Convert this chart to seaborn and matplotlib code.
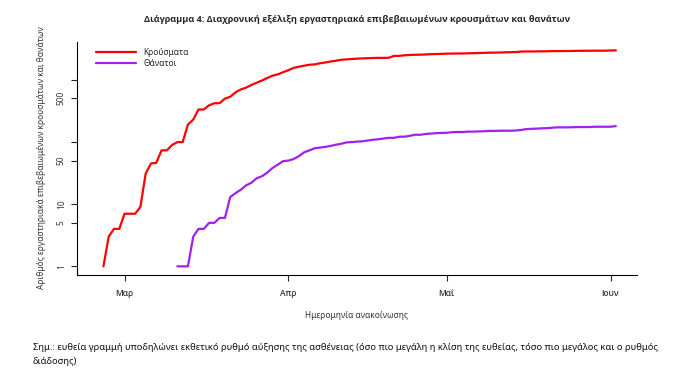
import matplotlib
matplotlib.use("Agg")
import matplotlib.pyplot as plt
from matplotlib.ticker import NullLocator
import pandas as pd
import seaborn as sns

# cumulative lab-confirmed cases, daily from 26 Feb
cases_start = "2020-02-26"
cases = [
    1, 3, 4, 4,
    7, 7, 7, 9, 31, 45, 46, 73, 73, 89, 99, 99, 190, 228, 331, 331, 387, 418, 418,
    495, 530, 624, 695, 743, 821, 892, 966, 1061, 1156, 1212, 1314,
    1415, 1544, 1613, 1673, 1735, 1755, 1832, 1884, 1955, 2011, 2081, 2114, 2145,
    2170, 2192, 2207, 2224, 2235, 2235, 2245, 2401, 2408, 2463, 2490, 2506, 2517,
    2534, 2566, 2576, 2591,
    2612, 2620, 2626, 2632, 2642, 2663, 2678, 2691, 2710, 2716, 2726, 2744, 2760,
    2770, 2819, 2834, 2836, 2840, 2850, 2853, 2874, 2876, 2878, 2882, 2892, 2903,
    2906, 2909, 2915, 2917, 2918,
    2937, 2952,
]

# cumulative deaths, daily from 11 Mar
deaths_start = "2020-03-11"
deaths = [
    1, 1, 1, 3, 4, 4, 5, 5, 6, 6, 13, 15, 17, 20, 22, 26, 28, 32, 38, 43, 49,
    50, 53, 59, 68, 73, 79, 81, 83, 86, 90, 93, 98, 99, 101, 102, 105, 108, 110,
    113, 116, 116, 121, 121, 125, 130, 130, 134, 136, 138, 139,
    140, 143, 144, 144, 146, 146, 147, 148, 150, 150, 151, 151, 151, 152, 155, 160,
    162, 163, 165, 166, 169, 171, 171, 171, 172, 173, 173, 173, 175, 175, 175,
    175, 179,
]

series_labels = ["Κρούσματα", "Θάνατοι"]
month_ticks = ["2020-03-01", "2020-04-01", "2020-05-01", "2020-06-01"]
month_labels = ["Μαρ", "Απρ", "Μαΐ", "Ιουν"]
y_ticks = [1, 5, 10, 50, 100, 500, 1000]
y_tick_labels = ["1", "5", "10", "50", "", "500", ""]

title = "Διάγραμμα 4: Διαχρονική εξέλιξη εργαστηριακά επιβεβαιωμένων κρουσμάτων και θανάτων"
x_title = "Ημερομηνία ανακοίνωσης"
y_title = "Αριθμός εργαστηριακά επιβεβαιωμένων κρουσμάτων και θανάτων"
note = ["Σημ.: ευθεία γραμμή υποδηλώνει εκθετικό ρυθμό αύξησης της ασθένειας (όσο πιο μεγάλη η κλίση της ευθείας, τόσο πιο μεγάλος και ο ρυθμός",
        "διάδοσης)"]

sns.set_style("ticks")
plt.rcParams["font.family"] = ["Noto Sans", "DejaVu Sans"]

df_cases = pd.DataFrame({"date": pd.date_range(cases_start, periods=len(cases)), "value": cases})
df_deaths = pd.DataFrame({"date": pd.date_range(deaths_start, periods=len(deaths)), "value": deaths})

W, H = 691, 381
fig = plt.figure(figsize=(W / 100, H / 100), dpi=100)
ax = fig.add_axes([77 / W, 1 - 275 / H, 560 / W, 233.3 / H])

sns.lineplot(data=df_cases, x="date", y="value", color="#FF0000", lw=1.6, ax=ax, label=series_labels[0])
sns.lineplot(data=df_deaths, x="date", y="value", color="#A020F0", lw=1.6, ax=ax, label=series_labels[1])

ax.set_yscale("log")
ax.set_ylim(0.726, 4066)
ax.set_xlim(pd.Timestamp("2020-02-21"), pd.Timestamp("2020-06-06"))
ax.set_yticks(y_ticks)
ax.set_yticklabels(y_tick_labels, rotation=90, va="center")
ax.yaxis.set_minor_locator(NullLocator())
ax.set_xticks(pd.to_datetime(month_ticks))
ax.set_xticklabels(month_labels, fontfamily=["Open Sans", "DejaVu Sans"], fontweight="semibold")
ax.set_xlabel("")
ax.set_ylabel("")
ax.tick_params(axis="y", length=4, width=0.8, pad=4, labelsize=6, labelcolor="#333333")
ax.tick_params(axis="x", length=4, width=0.8, pad=6, labelsize=6, labelcolor="#333333")
for side in ["top", "right"]:
    ax.spines[side].set_visible(False)
for side in ["left", "bottom"]:
    ax.spines[side].set_linewidth(0.8)
    ax.spines[side].set_color("black")

ax.legend(loc="upper left", bbox_to_anchor=(0.034, 0.975), frameon=False, fontsize=6,
          handlelength=4.8, handletextpad=0.9, labelspacing=0.25, borderpad=0, borderaxespad=0)

fig.text(357.5 / W, 1 - 19 / H, title, ha="center", va="center", fontsize=6.6, fontweight="bold",
         fontfamily=["Open Sans", "DejaVu Sans"])
fig.text(357 / W, 1 - 316 / H, x_title, ha="center", va="center", fontsize=6, color="#333333")
fig.text(42 / W, 1 - 158 / H, y_title, ha="center", va="center", rotation=90, fontsize=6, color="#333333")
fig.text(33 / W, 1 - 348 / H, note[0], ha="left", va="center", fontsize=6.75, color="#111111")
fig.text(33 / W, 1 - 362 / H, note[1], ha="left", va="center", fontsize=6.75, color="#111111")

fig.savefig("out.png", dpi=100)
